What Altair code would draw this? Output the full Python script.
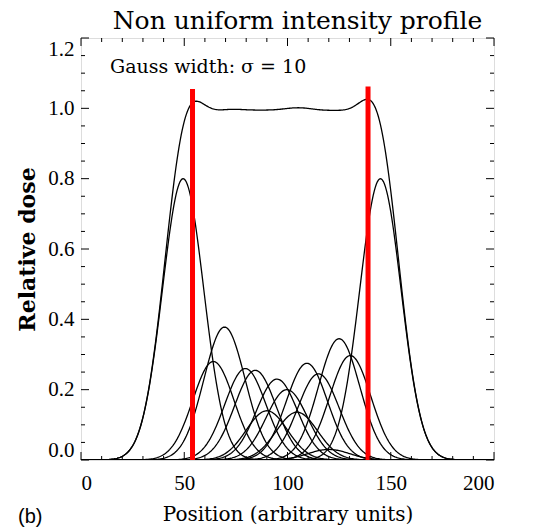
import altair as alt
import numpy as np
import pandas as pd

# Gaussian components (sigma = 10)
sigma = 10.0
centers = [49.45, 64.1, 69.5, 79.6, 84.4, 90.0, 94.9, 99.7, 104.6, 109.4, 115.0, 120.0, 125.0, 130.4, 145.0]
amps = [0.80, 0.28, 0.378, 0.26, 0.255, 0.14, 0.23, 0.20, 0.136, 0.275, 0.245, 0.03, 0.345, 0.297, 0.80]

# red markers (field edges)
red_x = [54, 139]
red_top = [1.055, 1.062]

x_major = [0, 50, 100, 150, 200]
x_minor = [v for v in range(0, 201, 10) if v % 50 != 0]
y_major = [0.0, 0.2, 0.4, 0.6, 0.8, 1.0, 1.2]
y_minor = [round(v * 0.05, 2) for v in range(0, 25) if v % 4 != 0]

W, H = 413, 422

xs = np.arange(0, 200.01, 0.5)
rows = []
total = np.zeros_like(xs)
for i, (c, a) in enumerate(zip(centers, amps)):
    g = a * np.exp(-((xs - c) ** 2) / (2 * sigma ** 2))
    total += g
    rows.append(pd.DataFrame({"x": xs, "y": g, "s": f"g{i}"}))
rows.append(pd.DataFrame({"x": xs, "y": total, "s": "sum"}))
df = pd.concat(rows, ignore_index=True)

serif = "Liberation Serif"
wide = "DejaVu Serif"
xscale = alt.Scale(domain=[0, 200], nice=False, zero=False)
yscale = alt.Scale(domain=[0, 1.2], nice=False, zero=False)

lines = alt.Chart(df).mark_line(color="black", strokeWidth=1.3, clip=True).encode(
    x=alt.X("x:Q", scale=xscale,
            axis=alt.Axis(values=x_major, format="d", ticks=False, domain=False, grid=False,
                          labelFont=serif, labelFontSize=21, labelColor="black", labelPadding=12,
                          title="Position (arbitrary units)", titleFont=wide, titleFontSize=20,
                          titleFontWeight="normal", titleColor="black", titlePadding=11)),
    y=alt.Y("y:Q", scale=yscale,
            axis=alt.Axis(values=y_major, format=".1f", ticks=False, domain=False, grid=False,
                          labelFont=serif, labelFontSize=21, labelColor="black", labelPadding=7,
                          labelFlush=True,
                          title="Relative dose", titleFont=wide, titleFontSize=22,
                          titleFontWeight="bold", titleColor="black", titlePadding=8)),
    detail="s:N",
)

red = alt.Chart(pd.DataFrame({"x": red_x, "top": red_top, "b": [0, 0]})).mark_rule(
    color="#ff0000", strokeWidth=5
).encode(x=alt.X("x:Q", scale=xscale), y=alt.Y("b:Q", scale=yscale), y2="top:Q")

def xt(vals, L):
    d = pd.DataFrame({"v": vals})
    b = alt.Chart(d).mark_rule(color="black", strokeWidth=1).encode(
        x=alt.X("v:Q", scale=xscale), y=alt.value(H), y2=alt.value(H - L))
    t = alt.Chart(d).mark_rule(color="black", strokeWidth=1).encode(
        x=alt.X("v:Q", scale=xscale), y=alt.value(0), y2=alt.value(L))
    return b + t

def yt(vals, L):
    d = pd.DataFrame({"v": vals})
    l = alt.Chart(d).mark_rule(color="black", strokeWidth=1).encode(
        y=alt.Y("v:Q", scale=yscale), x=alt.value(0), x2=alt.value(L))
    r = alt.Chart(d).mark_rule(color="black", strokeWidth=1).encode(
        y=alt.Y("v:Q", scale=yscale), x=alt.value(W), x2=alt.value(W - L))
    return l + r

label = alt.Chart(pd.DataFrame({"t": ["Gauss width: σ = 10"]})).mark_text(
    font=wide, fontSize=19, align="left", baseline="middle", color="black"
).encode(text="t:N", x=alt.value(29), y=alt.value(29))

tag = alt.Chart(pd.DataFrame({"t": ["(b)"]})).mark_text(
    font="Liberation Sans", fontSize=20, align="left", baseline="middle", color="black"
).encode(text="t:N", x=alt.value(-63), y=alt.value(H + 57))

chart = alt.layer(
    lines, red, xt(x_major, 8), xt(x_minor, 4), yt(y_major, 8), yt(y_minor, 4), label, tag
).properties(
    width=W, height=H,
    title=alt.TitleParams("Non uniform intensity profile", font=wide, fontSize=25,
                          fontWeight="normal", color="black", anchor="middle", dx=10, offset=4),
    autosize=alt.AutoSizeParams(type="none"),
    padding={"left": 81, "top": 38, "right": 47, "bottom": 69},
).configure_view(stroke="black", strokeWidth=1.5).configure(background="white")

chart.save("out.html", embed_options={"renderer": "svg", "actions": False})
